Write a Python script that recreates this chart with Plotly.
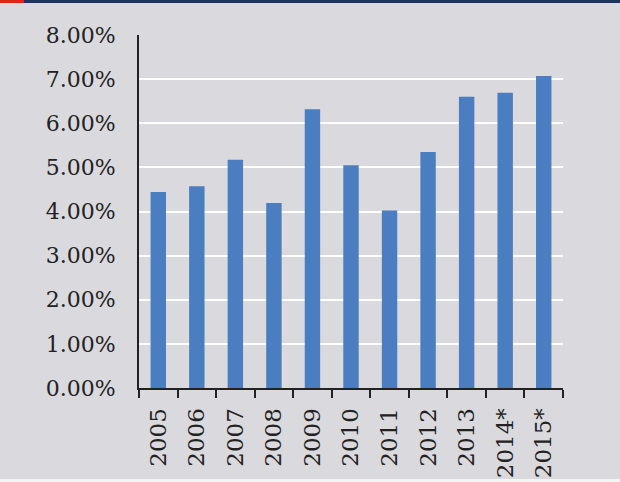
import plotly.graph_objects as go

# Dados
anos = ['2005', '2006', '2007', '2008', '2009', '2010', '2011', '2012', '2013', '2014*', '2015*']
valores = [4.44, 4.57, 5.17, 4.19, 6.32, 5.05, 4.02, 5.35, 6.60, 6.69, 7.07]
ticks_y = [0, 1, 2, 3, 4, 5, 6, 7, 8]
rotulos_y = ['0.00%', '1.00%', '2.00%', '3.00%', '4.00%', '5.00%', '6.00%', '7.00%', '8.00%']

fundo = '#dad9dd'
azul = '#4a7ec0'
fonte = 'DejaVu Serif'

W, H = 620, 482
m_l, m_r, m_t, m_b = 139, 57, 35, 94
area_w = W - m_l - m_r
area_h = H - m_t - m_b

fig = go.Figure(go.Bar(x=anos, y=valores, marker_color=azul, marker_line_width=0))

# faixa superior (azul escuro + vermelho) e faixa branca inferior
esq = -m_l / area_w
dir_ = 1 + m_r / area_w
topo = 1 + m_t / area_h
base = -m_b / area_h
fig.add_shape(type='rect', xref='paper', yref='paper', x0=esq, x1=dir_,
              y0=topo - 3 / area_h, y1=topo, fillcolor='#1d3461', line_width=0, layer='above')
fig.add_shape(type='rect', xref='paper', yref='paper', x0=esq, x1=esq + 24 / area_w,
              y0=topo - 3 / area_h, y1=topo, fillcolor='#e0261b', line_width=0, layer='above')
fig.add_shape(type='rect', xref='paper', yref='paper', x0=esq, x1=dir_,
              y0=base, y1=base + 3 / area_h, fillcolor='#f4f4f4', line_width=0, layer='above')

fig.update_layout(
    width=W, height=H,
    margin=dict(l=m_l, r=m_r, t=m_t, b=m_b, autoexpand=False),
    paper_bgcolor=fundo, plot_bgcolor=fundo,
    bargap=0.6,
    showlegend=False,
    font=dict(family=fonte, size=22, color='#222222'),
)
fig.update_yaxes(
    range=[0, 8], tickvals=ticks_y, ticktext=rotulos_y, automargin=False,
    showgrid=True, gridcolor='white', gridwidth=2, zeroline=False,
    showline=True, linecolor='#222222', linewidth=2, ticks='',
    ticklabelstandoff=17, fixedrange=True, tickfont_size=22,
)
fig.update_xaxes(
    tickangle=-90, showline=True, linecolor='#222222', linewidth=2, automargin=False,
    ticks='outside', tickson='boundaries', ticklen=8, tickwidth=2, tickcolor='#222222',
    ticklabelstandoff=9, showgrid=False, fixedrange=True, tickfont_size=23,
)

# sem margem do body para a figura ocupar a janela inteira
fig.write_html("out.html", config={'displayModeBar': False},
               post_script="document.body.style.margin='0';document.body.style.overflow='hidden';")
